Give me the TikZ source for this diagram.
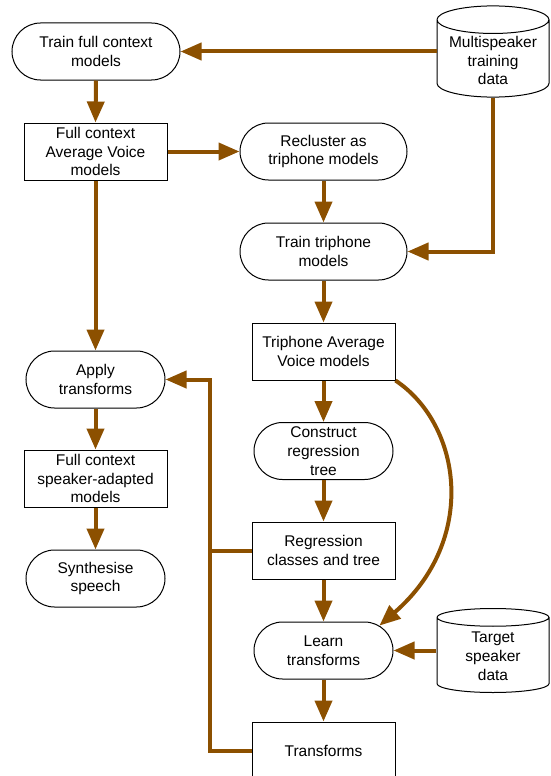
\documentclass[tikz,border=0pt]{standalone}
\usepackage{fontspec}
\setmainfont{Liberation Sans}
\usetikzlibrary{arrows.meta,shapes.misc,shapes.geometric}
\definecolor{flowbrown}{RGB}{140,80,0}
\begin{document}
\begin{tikzpicture}[x=1pt, y=-1pt]
  \useasboundingbox (0, 0) rectangle (550, 776);  % Bildrand wie Vorlage.
  \tikzstyle{every node}=[font=\fontsize{15.5}{18.8}\selectfont, align=center, line width=1pt, fill=white]
  \tikzstyle{proc}=[rounded rectangle, draw, minimum height=57pt, inner sep=2pt]
  \tikzstyle{model}=[rectangle, draw, minimum width=143pt, minimum height=57pt, inner sep=2pt]
  \tikzstyle{store}=[cylinder, draw, shape border rotate=90, aspect=0.3, minimum width=112pt, minimum height=84pt, inner sep=2pt, anchor=shape center]
  \tikzstyle{flow}=[draw=flowbrown, line width=4pt, -{Triangle[length=21pt, width=17pt]}, flowbrown]
  \tikzstyle{bus}=[draw=flowbrown, line width=4pt]

  \node[proc, minimum width=172pt] (tfc)   at (96, 51.5)    {Train full context\\models};
  \node[model]                     (fcav)  at (95.5, 151.5) {Full context\\Average Voice\\models};
  \node[proc, minimum width=171pt] (recl)  at (323.5, 151.5) {Recluster as\\triphone models};
  \node[proc, minimum width=171pt] (ttri)  at (323.5, 251.5) {Train triphone\\models};
  \node[model]                     (tav)   at (323.5, 351.5) {Triphone Average\\Voice models};
  \node[proc, minimum width=143pt] (crt)   at (323.5, 451)   {Construct\\regression\\tree};
  \node[model]                     (rct)   at (323.5, 550.5) {Regression\\classes and tree};
  \node[proc, minimum width=143pt] (learn) at (323.5, 650.5) {Learn\\transforms};
  \node[model]                     (trans) at (323.5, 750.5) {Transforms};

  \node[proc, minimum width=143pt] (apply) at (95.5, 379.5)  {Apply\\transforms};
  \node[model]                     (fcsa)  at (95.5, 478.5)  {Full context\\speaker-adapted\\models};
  \node[proc, minimum width=143pt] (synth) at (95.5, 578.5)  {Synthesise\\speech};

  \node[store] (multi)  at (493, 51.5) {Multispeaker\\training\\data};
  \node[store] (target) at (493, 650.5) {Target\\speaker\\data};

  \coordinate (busR) at (210, 550.5);
  \coordinate (busT) at (210, 750.5);

  \path[flow] (multi.west |- multi.shape center) -- (tfc.east);
  \path[flow] (tfc.south) -- (fcav.north);
  \path[flow] (fcav.east) -- (recl.west);
  \path[flow] (recl.south) -- (ttri.north);
  \path[flow] (multi.south) |- (ttri.east);
  \path[flow] (ttri.south) -- (tav.north);
  \path[flow] (tav.south) -- (crt.north);
  \path[flow] (crt.south) -- (rct.north);
  \path[flow] (rct.south) -- (learn.north);
  \path[flow] (learn.south) -- (trans.north);
  \path[flow] (target.west |- target.shape center) -- (learn.east);
  \path[flow] (tav.south east) .. controls (462, 425) and (478, 540) .. (learn.24);
  \path[flow] (fcav.south) -- (apply.north);
  \path[flow] (apply.south) -- (fcsa.north);
  \path[flow] (fcsa.south) -- (synth.north);
  \path[flow] (trans.west) -- (busT) |- (apply.east);
  \path[bus] (rct.west) -- (busR);
\end{tikzpicture}
\end{document}
